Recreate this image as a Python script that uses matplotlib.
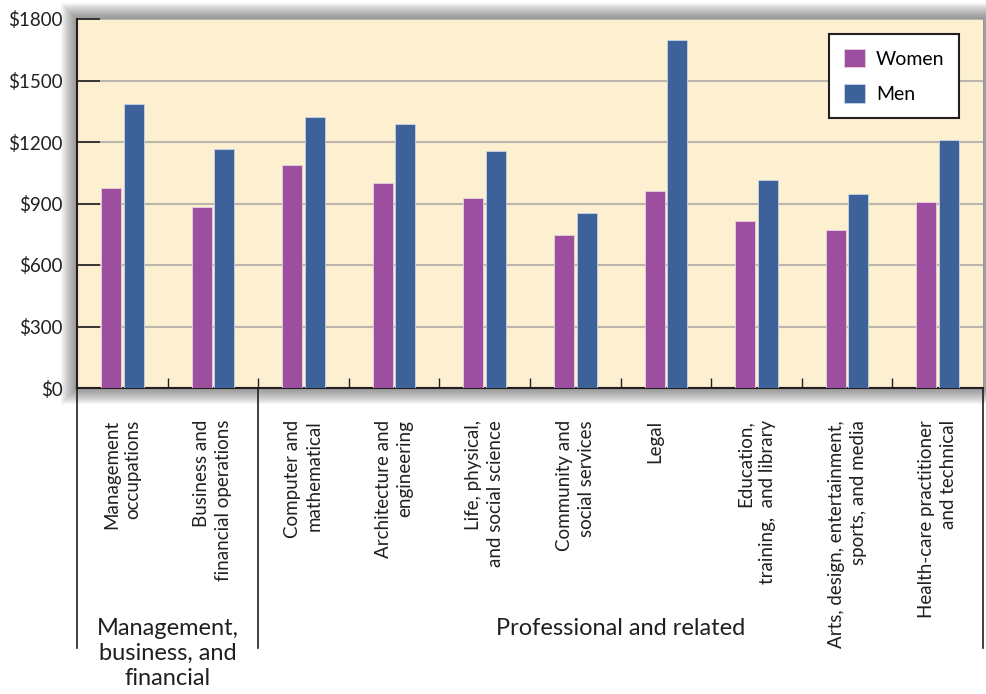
import matplotlib
matplotlib.use("Agg")
import matplotlib.pyplot as plt
from matplotlib.patches import Rectangle
import matplotlib.transforms as mtransforms
import numpy as np

plt.rcParams['font.family'] = ['Lato', 'DejaVu Sans']

categories = ["Management\noccupations", "Business and\nfinancial operations",
              "Computer and\nmathematical", "Architecture and\nengineering",
              "Life, physical,\nand social science", "Community and\nsocial services",
              "Legal\n", "Education,\ntraining,  and library",
              "Arts, design, entertainment,\nsports, and media",
              "Health-care practitioner\nand technical"]
women = [977, 881, 1086, 999, 928, 748, 959, 814, 771, 906]
men = [1384, 1168, 1322, 1288, 1156, 856, 1696, 1017, 947, 1210]
groups = ["Management,\nbusiness, and\nfinancial", "Professional and related"]
group_sizes = [2, 8]
yticks = [0, 300, 600, 900, 1200, 1500, 1800]
ytick_labels = ["$0", "$300", "$600", "$900", "$1200", "$1500", "$1800"]

W, H = 986, 694
fig = plt.figure(figsize=(W / 100, H / 100), dpi=100)
L, R, T, B = 77, 983, 19, 388
ax = fig.add_axes([L / W, 1 - B / H, (R - L) / W, (B - T) / H])

# soft shadow around plot area
for k in range(1, 17):
    fig.patches.append(Rectangle(((L - k) / W, 1 - (B + k) / H), (R - L + 2 * k) / W,
                                 (B - T + 2 * k) / H, transform=fig.transFigure,
                                 facecolor='#404040', edgecolor='none', alpha=0.045,
                                 zorder=-5))

ax.set_facecolor('#fdf0d0')
x = np.arange(len(categories))
bw = 0.22
off = 0.125
ax.bar(x - off, women, bw, color='#9b4f9e', edgecolor='#e9cfe0', linewidth=0.6,
       label='Women', zorder=3)
ax.bar(x + off, men, bw, color='#3d6299', edgecolor='#c9d3e6', linewidth=0.6,
       label='Men', zorder=3)

ax.set_xlim(-0.5, len(categories) - 0.5)
ax.set_ylim(0, 1800)
ax.set_yticks(yticks)
ax.set_yticklabels(ytick_labels, fontsize=13.5, color='#231f20')
ax.tick_params(axis='y', direction='in', length=16.5, width=1.2, pad=10.5, color='#231f20')
ax.yaxis.grid(True, color='#bab6ad', linewidth=1.5, zorder=1)
ax.set_axisbelow(True)

bounds = np.arange(len(categories) + 1) - 0.5
ax.set_xticks(bounds[1:-1])
ax.set_xticklabels([])
ax.tick_params(axis='x', which='major', direction='in', length=7.5, width=1.0, color='#231f20')
ax.set_xticks(x, minor=True)
ax.set_xticklabels(categories, minor=True, rotation=90, fontsize=13.5,
                   multialignment='right', linespacing=1.35, color='#231f20')
ax.tick_params(axis='x', which='minor', length=0, pad=23)

for s in ['top', 'right']:
    ax.spines[s].set_visible(False)
for s in ['left', 'bottom']:
    ax.spines[s].set_linewidth(1.5)
    ax.spines[s].set_color('#231f20')

# group separators and labels
trans = mtransforms.blended_transform_factory(ax.transData, ax.transAxes)
edges = np.concatenate([[0], np.cumsum(group_sizes)]) - 0.5
for e in edges:
    ax.plot([e, e], [0, -0.705], transform=trans, clip_on=False, color='#231f20',
            linewidth=1.2)
for g, a, b in zip(groups, edges[:-1], edges[1:]):
    ax.text((a + b) / 2, -0.622, g, transform=trans, ha='center', va='top',
            fontsize=17, linespacing=1.25, color='#231f20')

leg = ax.legend(loc='upper right', bbox_to_anchor=(0.9735, 0.959), borderaxespad=0,
                fancybox=False, frameon=True, fontsize=14, handlelength=1.1,
                handleheight=1.1, labelspacing=0.85, borderpad=0.75, handletextpad=0.55)
leg.get_frame().set_edgecolor('#231f20')
leg.get_frame().set_linewidth(1.5)
leg.get_frame().set_facecolor('white')
leg.get_frame().set_alpha(1)

fig.savefig('out.png', dpi=100)
